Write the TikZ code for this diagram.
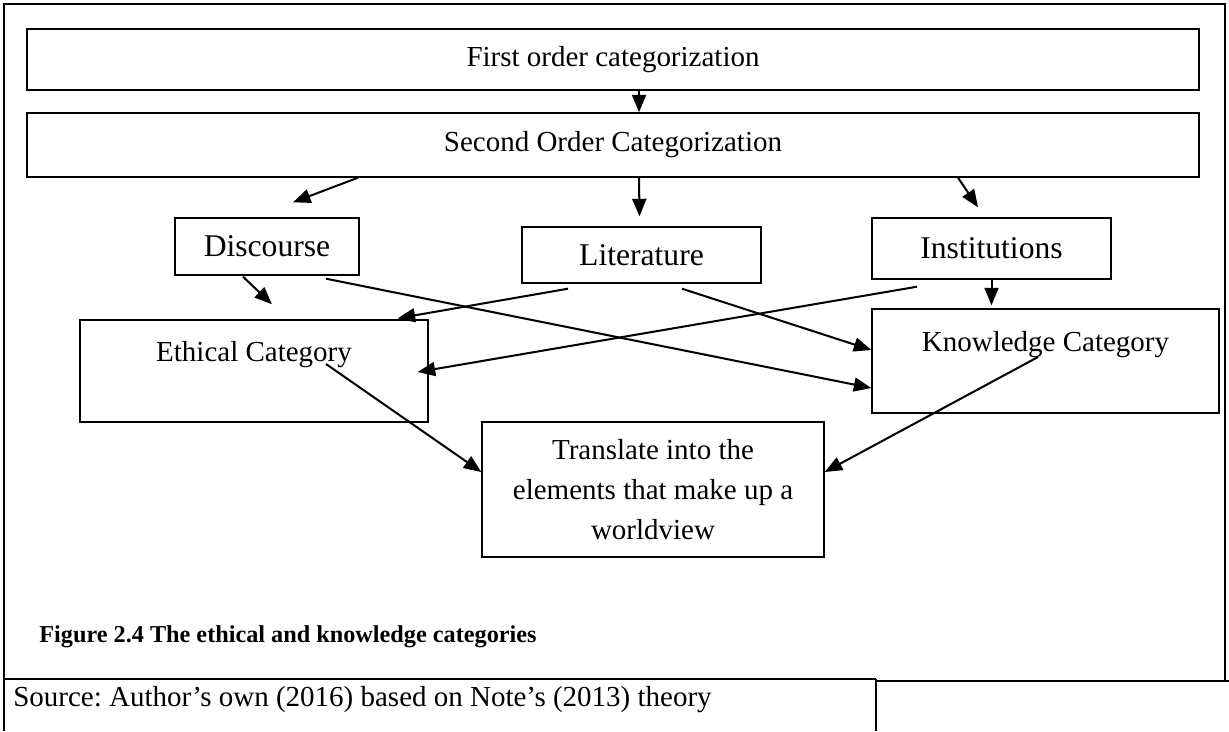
\documentclass[tikz,border=0pt]{standalone}
\usepackage{fontspec}
\setmainfont{Liberation Serif}
\usepackage{tikz}
\usetikzlibrary{arrows.meta}
\usetikzlibrary{calc}
\tikzstyle{box} = [draw,line width=0.8pt,inner sep=0pt,align=center,font=\fontsize{16.5}{22.6}\selectfont]
\tikzstyle{midbox} = [box,font=\fontsize{18}{22}\selectfont]
\tikzstyle{arr} = [-{Triangle[length=3.5mm,width=2.8mm]},line width=1.15pt]

\begin{document}
\frenchspacing
\begin{tikzpicture}[x=0.02cm,y=-0.02cm]
\useasboundingbox (0,0) rectangle (1229,731);

% frame and source row
\draw[line width=0.8pt] (4,731) -- (4,4) -- (1225,4) -- (1225,681);
\draw[line width=0.9pt] (4,679) -- (876,679);
\draw[line width=0.9pt] (876,681) -- (1229,681);
\draw[line width=0.8pt] (876,679) -- (876,731);

\draw(613,59.5) node[box,minimum width=23.44cm,minimum height=1.22cm] (first) {First order categorization};
\draw(613,145) node[box,minimum width=23.44cm,minimum height=1.28cm] (second) {Second Order Categorization};

\draw(267,246.5) node[midbox,minimum width=3.68cm,minimum height=1.14cm] (disc) {Discourse};
\draw(641.5,255) node[midbox,minimum width=4.78cm,minimum height=1.12cm] (lit) {Literature};
\draw(991.5,248.5) node[midbox,minimum width=4.78cm,minimum height=1.22cm] (inst) {Institutions};

\draw(254,371) node[box,minimum width=6.96cm,minimum height=2.04cm] (eth) {Ethical Category\\~};
\draw(1045.5,361) node[box,minimum width=6.94cm,minimum height=2.08cm] (know) {Knowledge Category\\~};
\draw(653,489.5) node[box,minimum width=6.84cm,minimum height=2.7cm] (trans) {Translate into the\\elements that make up a\\worldview};

\draw(39,637) node[anchor=west,inner sep=0pt,font=\fontsize{13.8}{16}\selectfont\bfseries] (fig) {Figure 2.4 The ethical and knowledge categories};
\draw(13,700) node[anchor=west,inner sep=0pt,font=\fontsize{16.5}{20}\selectfont] (src) {Source: Author’s own (2016) based on Note’s (2013) theory};

\draw[arr] ($(first.south)+(26,0)$) -- ($(second.north)+(26,0)$);

\draw[arr] ($(second.south)+(-255,0)$) -- ($(disc.north)+(26,-15)$);
\draw[arr] ($(second.south)+(26,0)$) -- ($(lit.north)+(-2,-10)$);
\draw[arr] ($(second.south)+(345,0)$) -- ($(inst.north)+(-13.5,-10)$);

\draw[arr] ($(disc.south)+(-24,1)$) -- ($(eth.north)+(18,-15)$);
\draw[arr] ($(disc.south)+(59,3)$) -- ($(know.west)+(0,27)$);
\draw[arr] ($(lit.south)+(-73.5,5)$) -- ($(eth.north east)+(-31,-1)$);
\draw[arr] ($(lit.south)+(40.5,5)$) -- ($(know.west)+(0,-11)$);
\draw[arr] ($(inst.south)+(-74.5,7)$) -- ($(eth.east)+(-11,1)$);
\draw[arr] (inst.south) -- ($(know.north)+(-54,-3)$);

\draw[arr] ($(eth.center)+(72,-7)$) -- ($(trans.west)+(0,-17.5)$);
\draw[arr] ($(know.center)+(-7.5,-4)$) -- ($(trans.east)+(0,-17.5)$);

\end{tikzpicture}
\end{document}
